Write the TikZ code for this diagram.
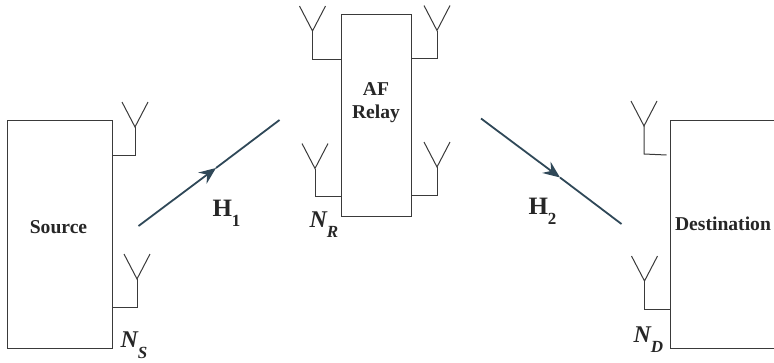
\documentclass[tikz,border=0pt]{standalone}
\usepackage{fontspec}
\setmainfont{Liberation Serif}
\usetikzlibrary{arrows.meta, positioning}
\definecolor{link}{HTML}{2F4858}
\definecolor{wire}{HTML}{3A3A3A}
\newcommand{\sublabel}[2]{#1\raisebox{-10.5pt}{\fontsize{17}{17}\selectfont #2}}

\begin{document}
\begin{tikzpicture}[x=1pt, y=-1pt, >=Stealth, line width=1pt, wire]
  \tikzset{
    block/.style={draw=wire, inner sep=0pt, outer sep=0pt},
    blocktext/.style={font=\fontsize{19.6}{23}\selectfont\bfseries, align=center, text=black!85},
    chanlabel/.style={font=\fontsize{25}{25}\selectfont\bfseries, anchor=base west, inner sep=0pt, text=black!85},
    sizelabel/.style={font=\fontsize{24}{24}\selectfont\bfseries\itshape, anchor=base west, inner sep=0pt, text=black!85},
    chan/.style={draw=link, line width=1.8pt},
    chantip/.style={-{Stealth[length=17pt, width=14pt, inset=6pt]}},
    antenna/.pic={
      \draw (-13,-25) -- (0,0) -- (13,-25);
    }
  }
  \useasboundingbox (0,0) rectangle (774,362);

  % Source
  \node[block, minimum width=105pt, minimum height=227.5pt] (source) at (59.5,234.25) {};
  \node[blocktext] (sourcetext) at (58.5,227) {Source};
  \coordinate (srctop) at (135,155);
  \coordinate (srcbot) at (137,307);
  \draw (source.east |- srctop) -- (srctop) -- ++(0,-28) pic {antenna};
  \draw (source.east |- srcbot) -- (srcbot) -- ++(0,-28) pic {antenna};
  \node[sizelabel] (sizesource) at (120,347.5) {\sublabel{N}{S}};

  % AF Relay
  \node[block, minimum width=70pt, minimum height=202.5pt] (relay) at (376,115.25) {};
  \node[blocktext] (relaytext) at (376,103) {AF\\Relay};
  \coordinate (relaytl) at (312.5,59);
  \coordinate (relaytr) at (437,58.5);
  \coordinate (relaybl) at (315,196.5);
  \coordinate (relaybr) at (437,195);
  \draw (relay.west |- relaytl) -- (relaytl) -- ++(0,-28) pic {antenna};
  \draw (relay.east |- relaytr) -- (relaytr) -- ++(0,-28) pic {antenna};
  \draw (relay.west |- relaybl) -- (relaybl) -- ++(0,-28) pic {antenna};
  \draw (relay.east |- relaybr) -- (relaybr) -- ++(0,-28) pic {antenna};
  \node[sizelabel] (sizerelay) at (309,227) {\sublabel{N}{R}};

  % Destination
  \draw (774,120.75) coordinate (desttr) -- (670,120.75) coordinate (desttl) -- (670,348.25) coordinate (destbl) -- (774,348.25) coordinate (destbr);
  \node[blocktext] (desttext) at (723,224) {Destination};
  \coordinate (desttop) at (644,154);
  \coordinate (destbot) at (644.5,309);
  \draw (666.5,155) -- (desttop) -- ++(0,-28) pic {antenna};
  \draw (destbl |- destbot) -- (destbot) -- ++(0,-28) pic {antenna};
  \node[sizelabel] (sizedest) at (633,342) {\sublabel{N}{D}};

  % Channels
  \coordinate (h1start) at (138.5,226);
  \coordinate (h1tip) at (216,168);
  \coordinate (h1end) at (279.5,120);
  \draw[chan, chantip] (h1start) -- (h1tip);
  \draw[chan] (h1tip) -- (h1end);
  \node[chanlabel] (h1label) at (212,216) {\sublabel{H}{1}};

  \coordinate (h2start) at (481,118.5);
  \coordinate (h2tip) at (560,177.5);
  \coordinate (h2end) at (621.5,224);
  \draw[chan, chantip] (h2start) -- (h2tip);
  \draw[chan] (h2tip) -- (h2end);
  \node[chanlabel] (h2label) at (528,214) {\sublabel{H}{2}};
\end{tikzpicture}
\end{document}
